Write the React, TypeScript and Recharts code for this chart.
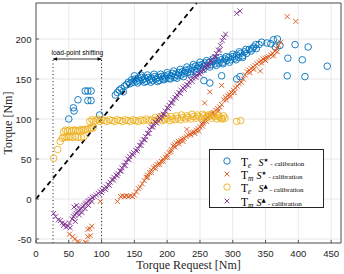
import React from "react";
import {
  ScatterChart,
  Scatter,
  XAxis,
  YAxis,
  CartesianGrid,
  ReferenceLine,
} from "recharts";

// ---------- axis ticks ----------
const xTicks = [0, 50, 100, 150, 200, 250, 300, 350, 400, 450];
const yTicks = [-50, 0, 50, 100, 150, 200];
const xDomain = [0, 465];
const yDomain = [-55, 245];

// ---------- series: Te S* calibration (blue circles) ----------
const teStar: [number, number][] = [
  [50, 100], [57, 114], [58, 110], [64, 124], [75, 135], [79, 135], [84, 135], [79, 123], [84, 123], [97, 105],
  [121, 130], [124, 133], [127, 136], [130, 138], [133, 134], [135, 141], [138, 143], [141, 146], [143, 144],
  [146, 149], [148, 146], [151, 150], [153, 147], [156, 151], [158, 148], [161, 152], [163, 149], [166, 151],
  [168, 147], [171, 152], [173, 149], [176, 151], [178, 148], [181, 153], [183, 150], [186, 152], [188, 148],
  [191, 153], [193, 150], [196, 154], [198, 151], [201, 155], [203, 151], [206, 154], [208, 157], [211, 152],
  [213, 156], [216, 154], [218, 158], [221, 155], [223, 159], [226, 157], [228, 161], [231, 158], [233, 162],
  [236, 159], [238, 164], [241, 161], [243, 166], [246, 163], [248, 167], [251, 164], [253, 168], [256, 166],
  [258, 170], [261, 167], [264, 171], [267, 168], [270, 172], [273, 169], [276, 173], [279, 170], [282, 174],
  [285, 171], [288, 175], [291, 173], [294, 177], [297, 174], [300, 178], [303, 176], [306, 180], [309, 177],
  [312, 182], [315, 179], [318, 184], [321, 182], [325, 187], [328, 185], [332, 190], [336, 188], [340, 193],
  [344, 196], [352, 195], [358, 194], [362, 199], [368, 200], [365, 190], [372, 192],
  [150, 154], [155, 145], [160, 155], [165, 146], [170, 155], [175, 146], [180, 156], [185, 147], [190, 156],
  [195, 149], [200, 158], [205, 150], [210, 160], [215, 151], [220, 162], [225, 153], [230, 165], [235, 156],
  [240, 168], [245, 159], [250, 171], [255, 162], [260, 173], [265, 165], [270, 175], [275, 167], [280, 177],
  [285, 169], [290, 178], [295, 171], [300, 181], [305, 174], [310, 184], [315, 177], [320, 187], [330, 188],
  [335, 193],
  [256, 148], [265, 145], [283, 154], [306, 150], [311, 153], [383, 154], [384, 176], [395, 193], [406, 174],
  [410, 153], [415, 190], [444, 166],
];

// ---------- series: Tm S* calibration (orange crosses) ----------
const tmStar: [number, number][] = [
  [51, -44], [56, -47], [59, -50], [64, -53], [65, -55], [75, -54], [77, -55], [79, -47], [83, -46], [79, -38],
  [82, -37], [85, -34], [98, -3], [124, -3],
  [129, 3], [132, 4], [135, 3], [138, 4], [141, 3], [144, 4], [147, 3], [150, 5],
  [153, 9], [156, 13], [159, 15], [162, 19], [165, 23], [168, 27], [170, 30], [173, 33], [176, 36], [179, 39],
  [182, 41], [185, 43], [188, 45], [191, 47], [194, 50], [197, 52], [200, 55], [203, 58], [206, 62], [209, 66],
  [211, 68], [214, 70], [217, 72], [220, 73], [223, 75], [226, 76], [229, 78], [232, 80], [235, 81], [238, 83],
  [241, 84], [244, 86], [247, 88], [250, 90], [253, 94], [256, 97], [259, 100], [262, 102], [265, 105],
  [268, 107], [271, 108], [274, 111], [277, 113], [280, 115], [283, 118], [286, 124], [289, 127], [292, 129],
  [295, 131], [298, 133], [301, 136], [304, 139], [307, 141], [310, 144], [313, 146], [316, 150], [319, 155],
  [322, 159], [325, 161], [328, 163], [331, 165], [334, 167], [337, 169], [340, 171], [343, 173], [346, 175],
  [349, 176], [352, 177], [355, 178], [358, 180], [361, 182], [364, 185], [367, 188], [370, 192], [373, 196],
  [170, 27], [176, 33], [182, 38], [188, 43], [194, 47], [200, 52], [206, 59], [212, 65], [218, 69], [224, 72],
  [236, 80], [242, 82], [248, 85], [254, 91], [260, 97], [266, 103], [272, 105], [278, 110], [290, 124],
  [296, 128], [302, 133], [326, 158], [332, 162], [344, 170], [350, 173], [362, 179], [368, 184],
  [230, 87], [255, 95], [257, 120], [265, 134], [283, 142], [342, 160], [383, 228], [396, 222],
];

// ---------- series: Te S▲ calibration (yellow circles) ----------
const teTri: [number, number][] = [
  [27, 51], [33, 62], [37, 72], [40, 76], [43, 77], [46, 78], [49, 77], [52, 78], [56, 77], [60, 78], [64, 77],
  [69, 77], [73, 78],
  [42, 84], [45, 86], [48, 85], [51, 86], [54, 85], [57, 86], [60, 86], [63, 85], [66, 86], [69, 87], [72, 86],
  [75, 87], [78, 87], [81, 88], [84, 88], [87, 89],
  [82, 97], [85, 99], [88, 97], [91, 98], [94, 100], [97, 97], [100, 99], [104, 98], [108, 97], [112, 99],
  [116, 98], [120, 97], [124, 99], [128, 98], [132, 97], [136, 99], [140, 98], [144, 97], [148, 99],
  [152, 98], [156, 97], [160, 99], [164, 98], [168, 100], [172, 98], [176, 99], [180, 97], [184, 99],
  [188, 100], [192, 98], [196, 99], [200, 101], [204, 98], [208, 100], [212, 99], [216, 101], [220, 99],
  [224, 102], [228, 100], [232, 102], [236, 100], [240, 103], [244, 101], [248, 103], [252, 101], [256, 104],
  [260, 102], [264, 104], [268, 101], [272, 103], [276, 100], [280, 102], [284, 100], [288, 101],
  [182, 102], [190, 103], [198, 104], [206, 103], [214, 104], [222, 105], [230, 104], [238, 106], [246, 105],
  [254, 106], [262, 105], [270, 106], [278, 104], [286, 104],
  [283, 101], [306, 97], [312, 98],
];

// ---------- series: Tm S▲ calibration (purple crosses) ----------
const tmTri: [number, number][] = [
  [27, -18], [30, -22], [34, -26], [37, -27], [40, -30], [42, -33], [44, -31], [46, -35], [49, -34], [52, -36],
  [51, -30], [55, -25], [57, -22], [59, -20], [61, -18], [63, -16], [65, -15], [67, -13], [69, -12], [71, -10],
  [73, -8], [75, -6], [77, -5], [79, -3], [81, -2], [83, 0], [86, 2], [89, 3], [92, 5], [95, 7], [98, 9],
  [101, 11], [104, 13], [107, 15], [110, 18], [113, 21], [116, 24], [119, 27], [122, 30], [125, 32], [128, 35],
  [131, 39], [134, 42], [137, 46], [140, 50], [143, 53], [146, 56], [149, 58], [152, 61], [155, 63], [158, 67],
  [161, 71], [164, 74], [167, 78], [170, 82], [173, 87], [176, 90], [179, 93], [182, 96], [185, 99],
  [188, 102], [191, 104], [194, 106], [197, 110], [200, 114], [203, 117], [206, 120], [209, 124], [212, 127],
  [215, 130], [218, 133], [221, 136], [224, 139], [227, 141], [230, 143], [233, 146], [236, 149], [239, 151],
  [242, 153], [245, 155], [248, 157], [251, 159], [254, 162], [257, 165], [260, 167], [263, 169], [266, 172],
  [269, 175], [272, 178], [275, 182], [278, 186], [281, 192], [284, 198], [286, 202], [289, 206],
  [100, 8], [106, 12], [112, 17], [118, 24], [124, 29], [130, 35], [136, 42], [142, 49], [148, 55], [154, 60],
  [160, 67], [166, 74], [172, 82], [178, 90], [184, 95], [190, 100], [196, 106], [202, 113], [208, 120],
  [214, 126], [220, 132], [226, 137], [232, 142], [238, 147], [244, 152], [250, 156], [256, 161], [262, 166],
  [268, 171], [274, 178], [280, 186],
  [306, 232], [311, 235],
  [58, -10], [62, -8], [66, -20], [70, -17], [75, -12], [60, -28], [80, -8], [85, -3],
];

// ---------- annotation ----------
const shiftStart = 26;
const shiftEnd = 100;
const shiftLevel = 175;
const shiftText = "load-point shifting";
const diagonalEnd = 245;

const legendItems = [
  { sub: "e", sup: "★", marker: "circle", color: "#0072BD" },
  { sub: "m", sup: "★", marker: "cross", color: "#D95319" },
  { sub: "e", sup: "▲", marker: "circle", color: "#EDB120" },
  { sub: "m", sup: "▲", marker: "cross", color: "#7E2F8E" },
];

const toPts = (arr: [number, number][]) => arr.map(([x, y]) => ({ x, y }));

const circleShape = (color: string) => (p: any) => (
  <circle cx={p.cx} cy={p.cy} r={3.3} fill="none" stroke={color} strokeWidth={0.9} />
);
const crossShape = (color: string) => (p: any) => {
  const s = 2.5;
  const { cx, cy } = p;
  return (
    <path
      d={`M${cx - s},${cy - s}L${cx + s},${cy + s}M${cx - s},${cy + s}L${cx + s},${cy - s}`}
      stroke={color}
      strokeWidth={0.9}
      fill="none"
    />
  );
};

const axisColor = "#555";
const tickFont = "Liberation Sans, Arial, sans-serif";

const XTick = (p: any) => (
  <text x={p.x} y={p.y} textAnchor="middle" fontFamily={tickFont} fontSize={9.6} fill="#262626">
    {p.payload.value}
  </text>
);
const YTick = (p: any) => (
  <text x={p.x} y={p.y} textAnchor="end" dominantBaseline="central" fontFamily={tickFont} fontSize={9.6} fill="#262626">
    {p.payload.value}
  </text>
);

const ArrowShape = (p: any) => {
  const { x1, y1, x2, y2 } = p;
  const a = 4;
  const h = 1.8;
  return (
    <g>
      <line x1={x1} y1={y1} x2={x2} y2={y2} stroke="#000" strokeWidth={0.8} />
      <polygon points={`${x1},${y1} ${x1 + a},${y1 - h} ${x1 + a},${y1 + h}`} fill="#000" />
      <polygon points={`${x2},${y2} ${x2 - a},${y2 - h} ${x2 - a},${y2 + h}`} fill="#000" />
      <text
        x={(x1 + x2) / 2}
        y={y1 - 4.5}
        textAnchor="middle"
        fontFamily="Liberation Sans, Arial, sans-serif"
        fontSize={6.6}
        fill="#000"
      >
        {shiftText}
      </text>
    </g>
  );
};

export default function App() {
  return (
    <div style={{ position: "absolute", left: 0, top: 0, width: 344, height: 274, background: "#fff" }}>
      <ScatterChart width={344} height={274} margin={{ top: 2, right: 2, bottom: 0, left: 0 }}>
        <CartesianGrid stroke="#e3e3e3" strokeWidth={0.8} />
        <XAxis
          type="number"
          dataKey="x"
          domain={xDomain}
          ticks={xTicks}
          height={31}
          tickSize={-3}
          tickMargin={16.8}
          tick={<XTick />}
          axisLine={{ stroke: axisColor }}
          tickLine={{ stroke: axisColor }}
          allowDataOverflow
        />
        <XAxis
          xAxisId="top"
          orientation="top"
          type="number"
          dataKey="x"
          domain={xDomain}
          ticks={xTicks}
          height={1}
          tickSize={-3}
          tick={false}
          axisLine={{ stroke: axisColor }}
          tickLine={{ stroke: axisColor }}
          allowDataOverflow
        />
        <YAxis
          type="number"
          dataKey="y"
          domain={yDomain}
          ticks={yTicks}
          width={36}
          tickSize={-3}
          tickMargin={7.5}
          tick={<YTick />}
          axisLine={{ stroke: axisColor }}
          tickLine={{ stroke: axisColor }}
          allowDataOverflow
        />
        <YAxis
          yAxisId="right"
          orientation="right"
          type="number"
          dataKey="y"
          domain={yDomain}
          ticks={yTicks}
          width={1}
          tickSize={-3}
          tick={false}
          axisLine={{ stroke: axisColor }}
          tickLine={{ stroke: axisColor }}
          allowDataOverflow
        />
        <Scatter data={toPts(teStar)} isAnimationActive={false} shape={circleShape("#0072BD")} />
        <Scatter data={toPts(tmStar)} isAnimationActive={false} shape={crossShape("#D95319")} />
        <Scatter data={toPts(teTri)} isAnimationActive={false} shape={circleShape("#EDB120")} />
        <Scatter data={toPts(tmTri)} isAnimationActive={false} shape={crossShape("#7E2F8E")} />
        <ReferenceLine
          segment={[{ x: 0, y: 0 }, { x: diagonalEnd, y: diagonalEnd }]}
          stroke="#000"
          strokeWidth={1.8}
          strokeDasharray="5 4"
        />
        <ReferenceLine
          segment={[{ x: shiftStart, y: yDomain[0] }, { x: shiftStart, y: shiftLevel }]}
          stroke="#000"
          strokeWidth={0.9}
          strokeDasharray="1 2.5"
        />
        <ReferenceLine
          segment={[{ x: shiftEnd, y: yDomain[0] }, { x: shiftEnd, y: shiftLevel }]}
          stroke="#000"
          strokeWidth={0.9}
          strokeDasharray="1 2.5"
        />
        <ReferenceLine
          segment={[{ x: shiftStart, y: shiftLevel }, { x: shiftEnd, y: shiftLevel }]}
          shape={ArrowShape}
        />
      </ScatterChart>

      {/* axis titles */}
      <div
        style={{
          position: "absolute",
          left: 36,
          width: 305,
          top: 260,
          textAlign: "center",
          fontFamily: "Liberation Serif, Times New Roman, serif",
          fontSize: 12,
          color: "#262626",
          lineHeight: "11px",
        }}
      >
        Torque Request [Nm]
      </div>
      <div
        style={{
          position: "absolute",
          left: 8 - 60,
          top: 123 - 7,
          width: 120,
          textAlign: "center",
          transform: "rotate(-90deg)",
          fontFamily: "Liberation Serif, Times New Roman, serif",
          fontSize: 12,
          color: "#262626",
          lineHeight: "14px",
        }}
      >
        Torque [Nm]
      </div>

      {/* legend */}
      <div
        style={{
          position: "absolute",
          left: 209,
          top: 149,
          width: 113,
          height: 57,
          border: "1px solid #262626",
          background: "#fff",
        }}
      >
        {legendItems.map((it, i) => (
          <div
            key={i}
            style={{ position: "absolute", left: 0, top: 4 + i * 13.2, height: 13, width: 113, whiteSpace: "nowrap" }}
          >
            <svg width={10} height={10} style={{ position: "absolute", left: 11.5, top: 2 }}>
              {it.marker === "circle" ? (
                <circle cx={5} cy={5} r={3.2} fill="none" stroke={it.color} strokeWidth={0.9} />
              ) : (
                <path d="M2.6,2.6L7.4,7.4M2.6,7.4L7.4,2.6" stroke={it.color} strokeWidth={0.9} />
              )}
            </svg>
            <span
              style={{
                position: "absolute",
                left: 31,
                top: 0,
                fontFamily: "Liberation Serif, Times New Roman, serif",
                color: "#000",
                lineHeight: "13px",
              }}
            >
              <span style={{ fontSize: 11.5 }}>T</span>
              <span style={{ fontSize: 7.5, fontStyle: "italic", position: "relative", top: 2 }}>{it.sub}</span>
              <span style={{ fontSize: 10, fontStyle: "italic", marginLeft: it.sub === "e" ? 7 : 3 }}>S</span>
              <span style={{ fontSize: 5.5, position: "relative", top: -4, fontFamily: "DejaVu Sans" }}>{it.sup}</span>
              <span style={{ fontSize: 7, marginLeft: 2 }}>- calibration</span>
            </span>
          </div>
        ))}
      </div>
    </div>
  );
}
